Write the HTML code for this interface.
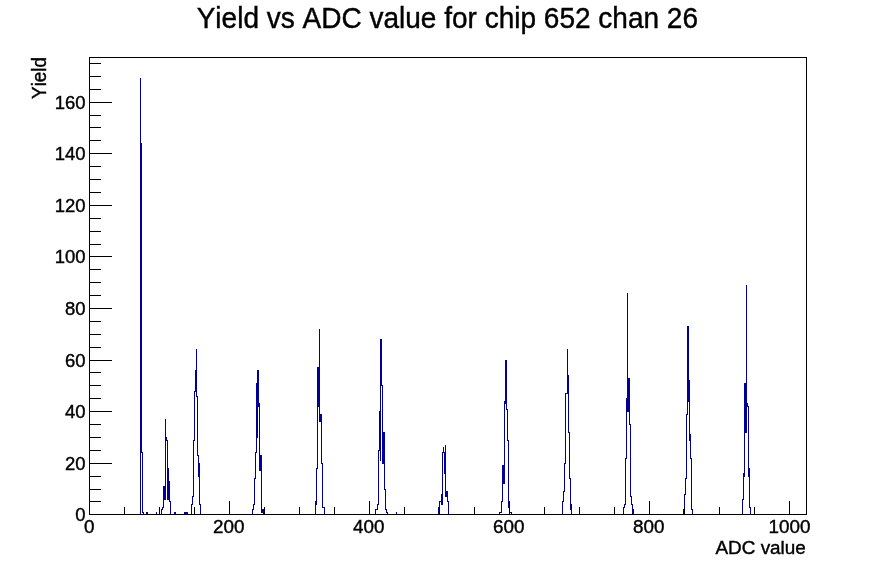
<!DOCTYPE html>
<html><head><meta charset="utf-8"><title>Yield vs ADC value for chip 652 chan 26</title>
<style>
html,body{margin:0;padding:0;background:#fff;}
body{width:896px;height:572px;overflow:hidden;}
svg{display:block;will-change:transform;}
text{font-family:"Liberation Sans",Arial,Helvetica,sans-serif;fill:#000;stroke:#000;stroke-width:0.4px;font-kerning:none;}
</style></head><body>
<svg width="896" height="572" viewBox="0 0 896 572">
<rect width="896" height="572" fill="#fff"/>
<g shape-rendering="crispEdges">
<path fill="#000099" d="M140 78h1v436h-1zM141 143h1v310h-1zM142 452h1v61h-1zM143 512h1v2h-1zM146 512h1v2h-1zM147 512h1v2h-1zM156 512h1v2h-1zM161 509h1v5h-1zM162 507h1v3h-1zM163 486h1v22h-1zM164 486h1v14h-1zM165 419h1v81h-1zM166 437h1v4h-1zM167 440h1v60h-1zM168 468h1v32h-1zM169 481h1v21h-1zM170 501h1v13h-1zM174 512h1v2h-1zM175 512h1v2h-1zM184 512h1v2h-1zM185 512h1v2h-1zM186 512h1v2h-1zM187 512h1v2h-1zM191 504h1v10h-1zM192 496h1v9h-1zM193 440h1v57h-1zM194 391h1v50h-1zM195 370h1v22h-1zM196 349h1v48h-1zM197 396h1v60h-1zM198 455h1v22h-1zM199 463h1v42h-1zM200 504h1v10h-1zM252 509h1v5h-1zM253 504h1v6h-1zM254 478h1v27h-1zM255 452h1v27h-1zM256 383h1v70h-1zM257 370h1v68h-1zM258 370h1v37h-1zM259 403h1v68h-1zM260 455h1v16h-1zM261 455h1v58h-1zM262 509h1v4h-1zM263 509h1v5h-1zM315 501h1v13h-1zM316 468h1v37h-1zM317 367h1v102h-1zM318 367h1v40h-1zM319 329h1v93h-1zM320 414h1v8h-1zM321 414h1v50h-1zM322 463h1v45h-1zM323 507h1v1h-1zM324 507h1v7h-1zM375 509h1v5h-1zM376 509h1v1h-1zM377 504h1v6h-1zM378 450h1v55h-1zM379 411h1v40h-1zM380 339h1v122h-1zM381 339h1v47h-1zM382 385h1v79h-1zM383 432h1v32h-1zM384 432h1v58h-1zM385 489h1v21h-1zM386 509h1v4h-1zM387 512h1v2h-1zM396 512h1v2h-1zM438 507h1v7h-1zM439 501h1v7h-1zM440 501h1v1h-1zM441 494h1v11h-1zM442 452h1v53h-1zM443 447h1v6h-1zM444 452h1v22h-1zM445 445h1v52h-1zM446 491h1v6h-1zM447 491h1v11h-1zM448 501h1v13h-1zM499 512h1v2h-1zM500 512h1v1h-1zM501 501h1v12h-1zM502 465h1v37h-1zM503 465h1v19h-1zM504 401h1v83h-1zM505 360h1v44h-1zM506 360h1v50h-1zM507 409h1v32h-1zM508 440h1v68h-1zM510 512h1v1h-1zM511 512h1v2h-1zM562 501h1v13h-1zM563 491h1v11h-1zM564 463h1v29h-1zM565 393h1v71h-1zM566 393h1v1h-1zM567 349h1v45h-1zM568 375h1v58h-1zM569 432h1v47h-1zM570 478h1v32h-1zM571 504h1v10h-1zM623 507h1v7h-1zM624 504h1v4h-1zM625 458h1v47h-1zM626 398h1v61h-1zM627 293h1v119h-1zM628 378h1v34h-1zM629 378h1v47h-1zM630 424h1v73h-1zM631 496h1v9h-1zM632 504h1v10h-1zM633 509h1v5h-1zM683 509h1v5h-1zM684 494h1v16h-1zM685 478h1v17h-1zM686 414h1v65h-1zM687 326h1v89h-1zM688 326h1v76h-1zM689 380h1v61h-1zM690 434h1v25h-1zM691 458h1v52h-1zM692 509h1v5h-1zM742 499h1v15h-1zM743 473h1v27h-1zM744 383h1v94h-1zM745 383h1v50h-1zM746 285h1v148h-1zM747 403h1v4h-1zM748 406h1v71h-1zM749 468h1v40h-1zM750 507h1v7h-1z"/>
<path fill="#000" d="M89 57h718v1h-718zM89 514h718v1h-718zM89 57h1v458h-1zM806 57h1v458h-1zM90 501h11v1h-11zM90 489h11v1h-11zM90 476h11v1h-11zM90 463h22v1h-22zM90 450h11v1h-11zM90 437h11v1h-11zM90 424h11v1h-11zM90 411h22v1h-22zM90 398h11v1h-11zM90 385h11v1h-11zM90 372h11v1h-11zM90 360h22v1h-22zM90 347h11v1h-11zM90 334h11v1h-11zM90 321h11v1h-11zM90 308h22v1h-22zM90 295h11v1h-11zM90 282h11v1h-11zM90 269h11v1h-11zM90 256h22v1h-22zM90 244h11v1h-11zM90 231h11v1h-11zM90 218h11v1h-11zM90 205h22v1h-22zM90 192h11v1h-11zM90 179h11v1h-11zM90 166h11v1h-11zM90 153h22v1h-22zM90 140h11v1h-11zM90 127h11v1h-11zM90 115h11v1h-11zM90 102h22v1h-22zM90 89h11v1h-11zM90 76h11v1h-11zM90 63h11v1h-11zM124 507h1v7h-1zM159 507h1v7h-1zM194 507h1v7h-1zM229 501h1v13h-1zM264 507h1v7h-1zM299 507h1v7h-1zM334 507h1v7h-1zM369 501h1v13h-1zM404 507h1v7h-1zM439 507h1v7h-1zM474 507h1v7h-1zM509 501h1v13h-1zM544 507h1v7h-1zM579 507h1v7h-1zM614 507h1v7h-1zM649 501h1v13h-1zM684 507h1v7h-1zM719 507h1v7h-1zM754 507h1v7h-1zM789 501h1v13h-1z"/>
</g>
<g>
<text transform="translate(85.5,521.1) scale(1,1.015)" text-anchor="end" font-size="18.5">0</text>
<text transform="translate(85.5,470.1) scale(1,1.015)" text-anchor="end" font-size="18.5">20</text>
<text transform="translate(85.5,418.1) scale(1,1.015)" text-anchor="end" font-size="18.5">40</text>
<text transform="translate(85.5,367.1) scale(1,1.015)" text-anchor="end" font-size="18.5">60</text>
<text transform="translate(85.5,315.1) scale(1,1.015)" text-anchor="end" font-size="18.5">80</text>
<text transform="translate(85.5,263.1) scale(1,1.015)" text-anchor="end" font-size="18.5">100</text>
<text transform="translate(85.5,212.1) scale(1,1.015)" text-anchor="end" font-size="18.5">120</text>
<text transform="translate(85.5,160.1) scale(1,1.015)" text-anchor="end" font-size="18.5">140</text>
<text transform="translate(85.5,109.1) scale(1,1.015)" text-anchor="end" font-size="18.5">160</text>
<text transform="translate(89.20,533.3) scale(1,1.0)" text-anchor="middle" font-size="18.85">0</text>
<text transform="translate(228.70,533.3) scale(1,1.0)" text-anchor="middle" font-size="18.85">200</text>
<text transform="translate(368.75,533.3) scale(1,1.0)" text-anchor="middle" font-size="18.85">400</text>
<text transform="translate(508.75,533.3) scale(1,1.0)" text-anchor="middle" font-size="18.85">600</text>
<text transform="translate(648.75,533.3) scale(1,1.0)" text-anchor="middle" font-size="18.85">800</text>
<text transform="translate(789.50,533.3) scale(1,1.0)" text-anchor="middle" font-size="18.85">1000</text>
<text transform="translate(805.8,554.2) scale(1,1.015)" text-anchor="end" font-size="18.9">ADC value</text>
<text transform="translate(46.2,98.9) rotate(-90) scale(1,1.06)" font-size="18.85">Yield</text>
<text transform="translate(447.35,28.1) scale(1,1.05)" text-anchor="middle" font-size="28.03" stroke-width="0.3">Yield vs ADC value for chip 652 chan 26</text>
</g>
</svg>
</body></html>
